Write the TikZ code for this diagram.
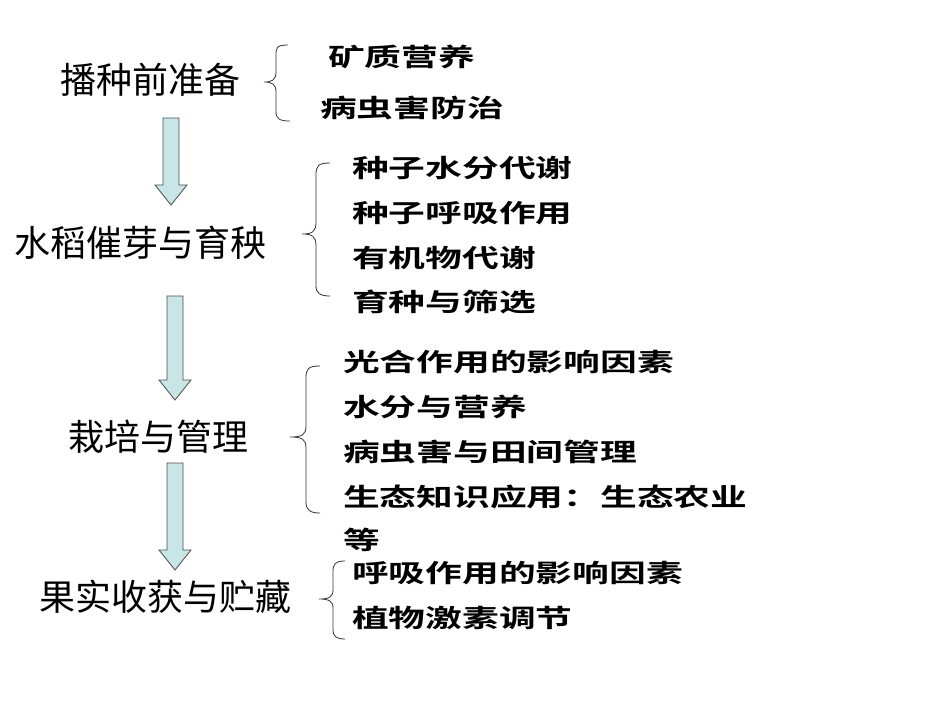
\documentclass[tikz,border=0pt]{standalone}
\usepackage{fontspec}
\newfontfamily\cjk{Noto Sans CJK SC}
\newfontfamily\cjkb{Noto Sans CJK SC Bold}[FakeStretch=1.47]
\definecolor{arrfill}{HTML}{C8E6E6}
\begin{document}
\begin{tikzpicture}[x=1pt,y=-1pt,
 main/.style={font=\cjk\fontsize{36}{38}\selectfont, inner sep=0},
 item/.style={font=\cjkb\fontsize{25}{28}\selectfont, anchor=west, inner sep=0},
 darr/.style={draw=black!70, fill=arrfill, line width=0.8pt},
 br/.style={draw=black!80, line width=0.8pt}]
\useasboundingbox (0,0) rectangle (950,713);
\node[main] (m1) at (150,80) {播种前准备};
\node[main] (m2) at (140,243) {水稻催芽与育秧};
\node[main] (m3) at (158,437) {栽培与管理};
\node[main] (m4) at (165,597) {果实收获与贮藏};
\newcommand\myarr[3]{\draw[darr] (#1-8,#2) -- (#1+8,#2) -- (#1+8,#3-20) -- (#1+16,#3-20) -- (#1,#3) -- (#1-16,#3-20) -- (#1-8,#3-20) -- cycle;}
\myarr{171}{118}{205}
\myarr{175}{296}{400}
\myarr{175}{463}{570}
\draw[br] (288,45) .. controls (276,45) and (276,48) .. (276,56) -- (276,72) .. controls (276,80) and (272,82) .. (264,82)
  .. controls (272,82) and (276,84) .. (276,92) -- (276,112) .. controls (276,119) and (280,121) .. (290,121);
\draw[br] (330,163) .. controls (318,163) and (316,166) .. (316,175) -- (316,222) .. controls (316,232) and (312,234) .. (302,234)
  .. controls (312,234) and (316,236) .. (316,246) -- (316,286) .. controls (316,293) and (320,296) .. (330,296);
\draw[br] (320,366) .. controls (308,366) and (306,369) .. (306,378) -- (306,426) .. controls (306,435) and (302,437) .. (290,437)
  .. controls (302,437) and (306,439) .. (306,448) -- (306,502) .. controls (306,510) and (310,513) .. (320,513);
\draw[br] (345,561) .. controls (335,561) and (333,564) .. (333,572) -- (333,590) .. controls (333,597) and (329,599) .. (319,599)
  .. controls (329,599) and (333,601) .. (333,608) -- (333,630) .. controls (333,636) and (336,639) .. (345,639);
\node[item] (i11) at (328,57) {矿质营养};
\node[item] (i12) at (320,108) {病虫害防治};
\node[item] (i21) at (352,168) {种子水分代谢};
\node[item] (i22) at (352,213) {种子呼吸作用};
\node[item] (i23) at (352,258) {有机物代谢};
\node[item] (i24) at (352,302) {育种与筛选};
\node[item] (i31) at (343,362) {光合作用的影响因素};
\node[item] (i32) at (343,407) {水分与营养};
\node[item] (i33) at (343,452) {病虫害与田间管理};
\node[item] (i34) at (343,497) {生态知识应用：生态农业};
\node[item] (i35) at (343,540) {等};
\node[item] (i41) at (352,573) {呼吸作用的影响因素};
\node[item] (i42) at (352,618) {植物激素调节};
\end{tikzpicture}
\end{document}
